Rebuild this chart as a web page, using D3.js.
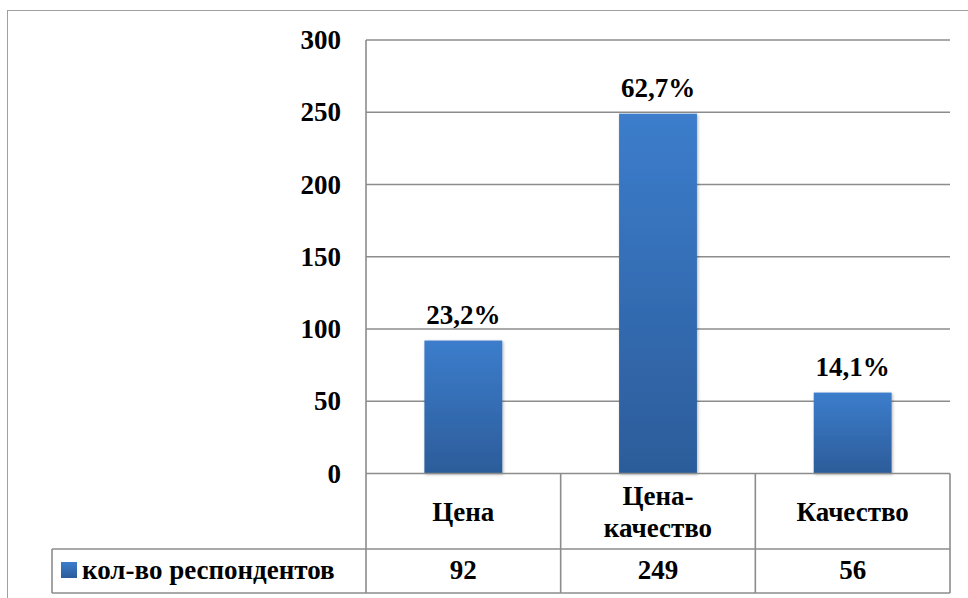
<!DOCTYPE html>
<html><head><meta charset="utf-8">
<script src="https://cdn.jsdelivr.net/npm/d3@7/dist/d3.min.js"></script>
<style>html,body{margin:0;padding:0;background:#fff;font-family:"Times New Roman";}svg{display:block;}</style>
</head><body>
<script>
const categories = ["Цена", "Цена-качество", "Качество"];
const categoryLines = [["Цена"], ["Цена-", "качество"], ["Качество"]];
const values = [92, 249, 56];
const percents = ["23,2%", "62,7%", "14,1%"];
const seriesName = "кол-во респондентов";
const yTicks = [0, 50, 100, 150, 200, 250, 300];

(function () {
const W = 968, H = 598;
const fs = 27;
const FONT = "Times New Roman";
const pLeft = 366, pRight = 950, pTop = 40, pBottom = 473.5;
const catRowBottom = 549, valRowBottom = 593, legendLeft = 52;
const lineColor = "#8c8c8c";

function txt(sel) {
  return sel.attr("font-family", FONT).style("font-family", FONT).attr("font-weight", "bold")
    .attr("font-size", fs).attr("fill", "#000");
}

const svg = d3.select("body").append("svg").attr("width", W).attr("height", H)
  .attr("font-family", FONT);
const defs = svg.append("defs");
const grad = defs.append("linearGradient").attr("id", "barGrad").attr("x1", 0).attr("y1", 0).attr("x2", 0).attr("y2", 1);
grad.append("stop").attr("offset", "0%").attr("stop-color", "#3c7dcc");
grad.append("stop").attr("offset", "100%").attr("stop-color", "#2c5c9a");
const sh = defs.append("filter").attr("id", "shadow").attr("x", "-20%").attr("y", "-20%").attr("width", "140%").attr("height", "140%");
sh.append("feDropShadow").attr("dx", 1).attr("dy", 1).attr("stdDeviation", 1.5).attr("flood-color", "#000").attr("flood-opacity", 0.3);

// outer chart border
svg.append("rect").attr("x", 7.5).attr("y", 10.5).attr("width", W).attr("height", H)
  .attr("fill", "none").attr("stroke", "#a0a0a0").attr("stroke-width", 1);

const x = d3.scaleBand().domain(categories).range([pLeft, pRight]).paddingInner(0.6).paddingOuter(0.3);
const xCol = d3.scaleBand().domain(categories).range([pLeft, pRight]).padding(0);
const y = d3.scaleLinear().domain([0, 300]).range([pBottom, pTop]);

// gridlines
svg.append("g").selectAll("line").data(yTicks.filter(d => d > 0)).join("line")
  .attr("x1", pLeft).attr("x2", pRight).attr("y1", d => y(d)).attr("y2", d => y(d))
  .attr("stroke", lineColor).attr("stroke-width", 1.6);

// y tick labels
const yAxis = d3.axisLeft(y).tickValues(yTicks).tickSize(0).tickPadding(25);
const ya = svg.append("g").attr("transform", `translate(${pLeft},0)`).call(yAxis);
ya.select(".domain").remove();
ya.attr("font-family", FONT).attr("font-size", fs);
txt(ya.selectAll("text"));

// bars
svg.append("g").selectAll("rect").data(values).join("rect")
  .attr("x", (d, i) => x(categories[i])).attr("width", x.bandwidth())
  .attr("y", d => y(d)).attr("height", d => y(0) - y(d))
  .attr("fill", "url(#barGrad)").attr("filter", "url(#shadow)");

// percent labels
txt(svg.append("g").selectAll("text").data(percents).join("text"))
  .attr("x", (d, i) => x(categories[i]) + x.bandwidth() / 2)
  .attr("y", (d, i) => y(values[i]) - 17)
  .attr("text-anchor", "middle")
  .text(d => d);

// data table lines
const tg = svg.append("g").attr("stroke", lineColor).attr("stroke-width", 1.6);
tg.append("line").attr("x1", pLeft).attr("x2", pRight).attr("y1", pBottom).attr("y2", pBottom);
tg.append("line").attr("x1", legendLeft).attr("x2", pRight).attr("y1", catRowBottom).attr("y2", catRowBottom);
tg.append("line").attr("x1", legendLeft).attr("x2", pRight).attr("y1", valRowBottom).attr("y2", valRowBottom);
tg.append("line").attr("x1", legendLeft).attr("x2", legendLeft).attr("y1", catRowBottom).attr("y2", valRowBottom);
tg.append("line").attr("x1", pLeft).attr("x2", pLeft).attr("y1", pTop).attr("y2", valRowBottom);
tg.selectAll(".col").data(categories).join("line").attr("class", "col")
  .attr("x1", d => xCol(d) + xCol.bandwidth()).attr("x2", d => xCol(d) + xCol.bandwidth())
  .attr("y1", pBottom).attr("y2", valRowBottom);

// category labels
const lineGap = 32;
const catMid = (pBottom + catRowBottom) / 2;
txt(svg.append("g").selectAll("text").data(categoryLines).join("text"))
  .attr("text-anchor", "middle")
  .attr("x", (d, i) => xCol(categories[i]) + xCol.bandwidth() / 2)
  .each(function (lines) {
    const n = lines.length;
    const cx = d3.select(this).attr("x");
    d3.select(this).selectAll("tspan").data(lines).join("tspan")
      .attr("x", cx)
      .attr("y", (l, j) => catMid + 10 + (j - (n - 1) / 2) * lineGap)
      .text(l => l);
  });

// values row
const valMid = (catRowBottom + valRowBottom) / 2;
txt(svg.append("g").selectAll("text").data(values).join("text"))
  .attr("x", (d, i) => xCol(categories[i]) + xCol.bandwidth() / 2)
  .attr("y", valMid + 8)
  .attr("text-anchor", "middle")
  .text(d => d);

// legend key + series name
svg.append("rect").attr("x", 61).attr("y", 562).attr("width", 16).attr("height", 16).attr("fill", "url(#barGrad)");
txt(svg.append("text")).attr("x", 82).attr("y", valMid + 8).text(seriesName);
})();
</script>
</body></html>
